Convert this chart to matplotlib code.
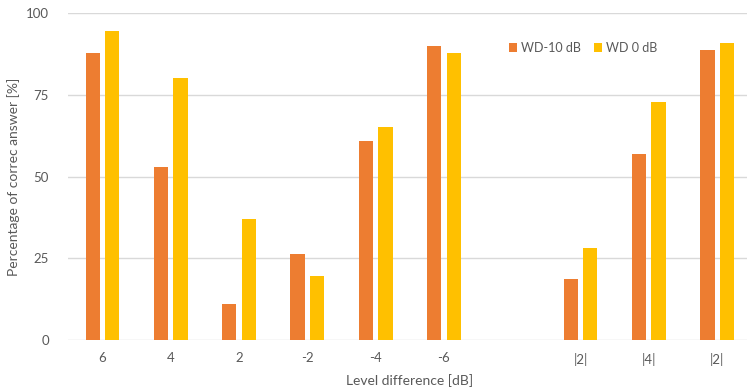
import numpy as np
import matplotlib.pyplot as plt

categories = ['6', '4', '2', '-2', '-4', '-6', '', '|2|', '|4|', '|2|']
wd_minus10 = [87.8, 53.1, 11.0, 26.3, 60.9, 90.1, np.nan, 18.8, 57.0, 88.9]
wd_0 = [94.5, 80.3, 36.9, 19.6, 65.3, 87.7, np.nan, 28.3, 72.7, 91.0]
yticks = [0, 25, 50, 75, 100]

plt.rcParams['font.family'] = ['Lato', 'DejaVu Sans']
text_grey = '#595959'

fig = plt.figure(figsize=(7.47, 3.9), dpi=100)
ax = fig.add_axes([68.3 / 747, 1 - 340 / 390, 683 / 747, (340 - 13.3) / 390])

x = np.arange(len(categories))
w = 0.21
ax.bar(x - 0.143, wd_minus10, w, color='#ED7D31', label='WD-10 dB', zorder=3)
ax.bar(x + 0.143, wd_0, w, color='#FFC000', label='WD 0 dB', zorder=3)

ax.set_xlim(-0.5, len(categories) - 0.5)
ax.set_ylim(0, 100)
ax.set_yticks(yticks)
ax.set_xticks(x)
ax.set_xticklabels(categories)
ax.grid(axis='y', color='#d9d9d9', linewidth=1, zorder=0)
ax.set_axisbelow(True)
for s in ax.spines.values():
    s.set_visible(False)
ax.tick_params(axis='both', length=0, colors=text_grey, labelsize=9.5)
ax.tick_params(axis='x', pad=9)
ax.tick_params(axis='y', pad=14)

ax.set_xlabel('Level difference [dB]', color=text_grey, fontsize=10, labelpad=6)
ax.set_ylabel('Percentage of correc answer [%]', color=text_grey, fontsize=10, labelpad=4)

fig.legend(loc='center', bbox_to_anchor=(583 / 747, 1 - 48 / 390), ncol=2, frameon=False,
           handlelength=0.7, handleheight=0.7, handletextpad=0.3, columnspacing=1.0,
           fontsize=9, labelcolor=text_grey)

fig.savefig('out.png', dpi=100)
